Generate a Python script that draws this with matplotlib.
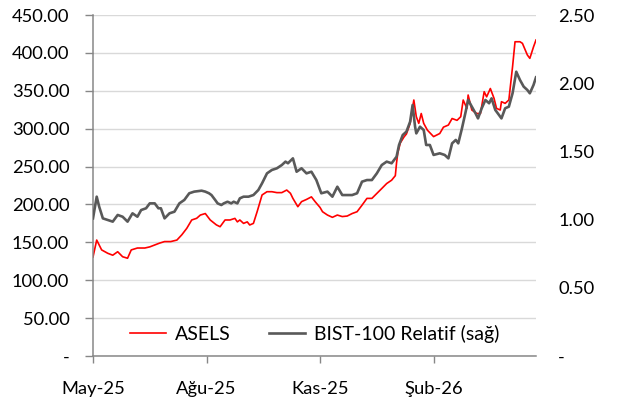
import matplotlib
matplotlib.use("Agg")
import matplotlib.pyplot as plt
import numpy as np
import datetime as dt

plt.rcParams['font.family'] = ['Lato', 'DejaVu Sans']

start = dt.date(2025, 5, 1)

# ASELS price (left axis): days since 2025-05-01 and value
asels_days = [0, 3, 7, 12, 16, 20, 24, 28, 31, 36, 42, 46, 50, 54, 58, 63, 68, 72, 76, 80, 84,
              87, 91, 95, 100, 103, 107, 111, 115, 117, 119, 122, 125, 127, 130, 133, 135, 137, 141, 145, 149,
              153, 157, 160, 162, 166, 169, 173, 177, 180, 184, 186, 190, 194, 198, 202, 206, 210,
              214, 218, 222, 226, 230, 234, 238, 242, 245, 246, 247, 249, 252, 254, 257, 260, 262,
              264, 266, 268, 271, 276, 281, 284, 288, 291, 295, 298, 300, 303, 304, 307, 311, 314,
              317, 319, 322, 325, 327, 330, 331, 334, 337, 340, 342, 346, 348, 352, 354, 357, 359]
asels_vals = [130.6, 153, 140, 135.5, 133, 137.6, 131, 129, 140, 142.5, 142.5, 144, 146.5, 149, 151,
              151, 153, 160, 168.5, 179.5, 181.7,
              186, 188, 179.5, 173, 170.6, 179.5, 179.5, 181.6, 177, 179.5, 175, 177, 172.9, 175, 190.4, 201.4,
              212.5, 216.8, 216.8, 215.6, 215.6, 219, 214.7, 208, 197, 203.7, 206.6, 210, 203.7,
              196, 190.4, 186, 183, 186, 184, 184.7, 188, 190.4, 199, 208, 208, 214.5, 221, 227.6,
              232, 238, 255, 268, 281, 289, 293, 307, 337.8, 315.8, 307, 320, 307, 298, 289.5, 293.6,
              302, 304.8, 313.4, 311, 315.8, 337.8, 326.8, 344.4, 324.6, 320, 320, 348.8, 342, 353,
              340, 326.8, 324.6, 335.6, 333.4, 337.8, 381.7, 414.7, 414.7, 412.6, 397.2, 392.8,
              408, 417]

# BIST-100 relative (right axis)
rel_days = [0, 3, 5, 8, 12, 16, 20, 24, 28, 32, 36, 39, 43, 46, 50, 53, 55, 58, 62, 66, 70, 74,
            78, 82, 88, 91, 94, 96, 99, 101, 104, 106, 109, 112, 114, 117, 119, 122, 126, 130, 134, 137, 141, 145,
            149, 153, 156, 158, 162, 165, 169, 173, 177, 181, 185, 190, 194, 198, 202, 206, 210,
            214, 218, 222, 226, 230, 234, 238, 242, 246, 248, 251, 254, 257, 259, 261, 262, 265,
            268, 270, 273, 276, 281, 285, 288, 291, 294, 296, 299, 302, 304, 307, 310, 312, 315,
            318, 321, 323, 326, 329, 331, 334, 337, 340, 343, 346, 349, 352, 354, 357, 359]
rel_vals = [1.009, 1.168, 1.095, 1.009, 0.997, 0.985, 1.034, 1.021, 0.985, 1.046, 1.021, 1.070,
            1.083, 1.119, 1.119, 1.083, 1.083, 1.009, 1.046, 1.058, 1.119, 1.144, 1.193, 1.205,
            1.212, 1.205, 1.193, 1.180, 1.144, 1.119, 1.107, 1.119, 1.131, 1.119, 1.131, 1.119,
            1.156, 1.168, 1.168, 1.180, 1.217, 1.266, 1.339, 1.364, 1.376, 1.400, 1.425, 1.413,
            1.449, 1.351, 1.376, 1.339,
            1.351, 1.290, 1.193, 1.205, 1.168, 1.241, 1.180, 1.180, 1.180, 1.193, 1.278, 1.290,
            1.290, 1.339, 1.400, 1.425, 1.413, 1.461, 1.547, 1.620, 1.645, 1.718, 1.840, 1.681,
            1.632, 1.681, 1.657, 1.547, 1.547, 1.474, 1.486, 1.474, 1.449, 1.559, 1.584, 1.559,
            1.669, 1.791, 1.877, 1.828, 1.779, 1.742, 1.816, 1.877, 1.853, 1.889, 1.804, 1.767,
            1.742, 1.816, 1.828, 1.926, 2.084, 2.024, 1.975, 1.950, 1.926, 1.987, 2.043]

left_ticks = [0, 50, 100, 150, 200, 250, 300, 350, 400, 450]
left_labels = ['-', '50.00', '100.00', '150.00', '200.00', '250.00', '300.00', '350.00', '400.00', '450.00']
right_ticks = [0, 0.5, 1.0, 1.5, 2.0, 2.5]
right_labels = ['-', '0.50', '1.00', '1.50', '2.00', '2.50']
x_tick_dates = [dt.date(2025, 5, 1), dt.date(2025, 8, 1), dt.date(2025, 11, 1), dt.date(2026, 2, 1)]
x_tick_labels = ['May-25', 'Ağu-25', 'Kas-25', 'Şub-26']

asels_dates = [start + dt.timedelta(days=d) for d in asels_days]
rel_dates = [start + dt.timedelta(days=d) for d in rel_days]

FS = 13.2
fig = plt.figure(figsize=(6.17, 4.01), dpi=100)
ax = fig.add_axes([93/617, 1-356/401, (536-93)/617, (356-15)/401])
ax2 = ax.twinx()

l1, = ax.plot(asels_dates, asels_vals, color='#FF0000', lw=1.2, label='ASELS')
l2, = ax2.plot(rel_dates, rel_vals, color='#595959', lw=1.9, label='BIST-100 Relatif (sağ)')

ax.set_xlim(dt.date(2025, 5, 1), dt.date(2026, 4, 25))
ax.set_ylim(0, 450)
ax2.set_ylim(0, 2.5)
ax.set_yticks(left_ticks)
ax.set_yticklabels(left_labels)
ax2.set_yticks(right_ticks)
ax2.set_yticklabels(right_labels)
ax.set_xticks(x_tick_dates)
ax.set_xticklabels(x_tick_labels)

ax.grid(axis='y', color='#D9D9D9', lw=1.0)
ax.set_axisbelow(True)
for a in (ax, ax2):
    for s in ('top', 'right'):
        a.spines[s].set_visible(False)
ax2.spines['left'].set_visible(False)
ax2.spines['bottom'].set_visible(False)
ax.spines['left'].set_color('#878787')
ax.spines['bottom'].set_color('#878787')
ax.spines['left'].set_linewidth(1.1)
ax.spines['bottom'].set_linewidth(1.1)

ax.tick_params(axis='y', length=6, color='#878787', width=1.0, pad=11, labelsize=FS)
ax.tick_params(axis='x', length=5, color='#878787', width=1.0, pad=13, labelsize=FS)
ax2.tick_params(axis='y', length=0, pad=16, labelsize=FS)

ax2.legend([l1, l2], ['ASELS', 'BIST-100 Relatif (sağ)'], loc='center',
           bbox_to_anchor=(0.5, 0.065), ncol=2, frameon=False, fontsize=14,
           handlelength=1.85, handletextpad=0.45, columnspacing=2.0, borderpad=0)

fig.savefig('out.png', dpi=100)
